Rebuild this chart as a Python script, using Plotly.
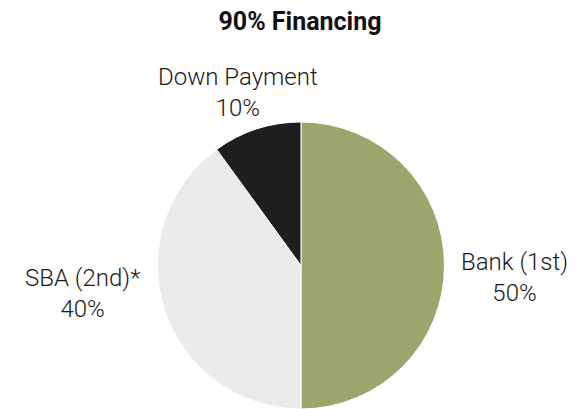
import plotly.graph_objects as go

labels = ["Bank (1st)", "SBA (2nd)*", "Down Payment"]
values = [50, 40, 10]
colors = ["#9CA66C", "#EBEBEB", "#1E1E1E"]

W, H = 583, 409
# label block centers (pixels) for each slice
label_px = [(514, 277), (82, 293), (238, 92)]

fig = go.Figure(go.Pie(
    labels=labels,
    values=values,
    sort=False,
    direction="clockwise",
    rotation=0,
    marker=dict(colors=colors, line=dict(color="white", width=1)),
    textinfo="none",
    showlegend=False,
    hoverinfo="label+percent",
    domain=dict(x=[(301 - 143.5) / W, (301 + 143.5) / W], y=[0, 287 / H]),
))

for lab, val, (px, py) in zip(labels, values, label_px):
    fig.add_annotation(
        text=f"{lab}<br>{val}%",
        x=px / W, y=1 - py / H, xref="paper", yref="paper",
        xanchor="center", yanchor="middle", showarrow=False,
        font=dict(family="Roboto", size=24, color="#1a1a1a", weight=300),
    )

fig.update_layout(
    width=W, height=H,
    margin=dict(l=0, r=0, t=0, b=0),
    paper_bgcolor="white",
    title=dict(text="<b>90% Financing</b>", x=300 / W, xanchor="center", y=1 - 21.5 / H, yanchor="middle",
               font=dict(family="Roboto", size=25, color="#111111")),
)

fig.write_html("out.html")
